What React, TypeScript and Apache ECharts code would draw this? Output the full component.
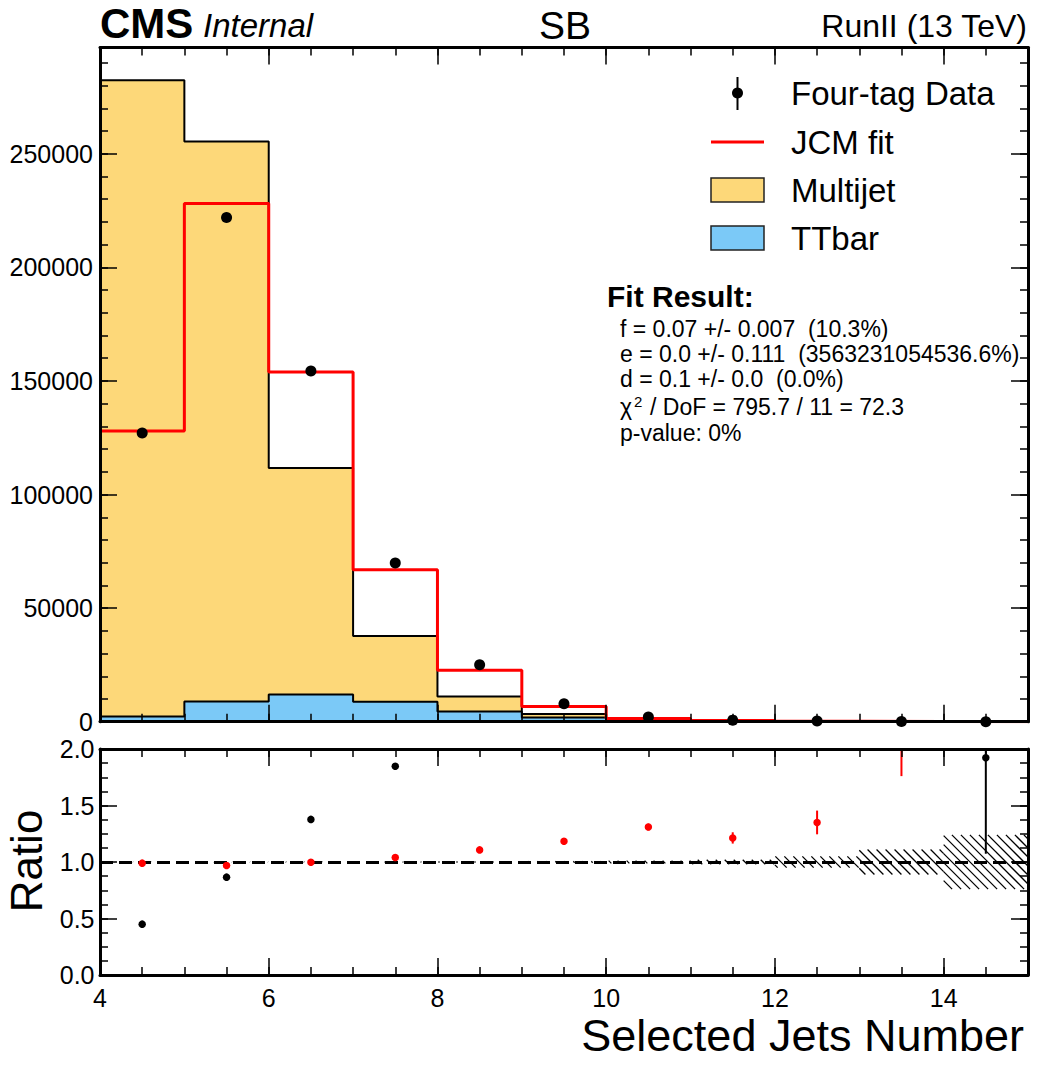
import React, { useEffect, useRef } from "react";
import * as echarts from "echarts";

// ---------------- data ----------------
const binEdges = [4, 5, 6, 7, 8, 9, 10, 11, 12, 13, 14, 15];
const binCenters = [4.5, 5.5, 6.5, 7.5, 8.5, 9.5, 10.5, 11.5, 12.5, 13.5, 14.5];
const multijet = [280070, 246510, 99700, 28900, 6600, 1600, 360, 120, 40, 15, 8];
const ttbar = [2330, 8930, 12000, 8800, 4530, 1800, 300, 80, 20, 5, 2];
const jcmFit = [128000, 228170, 153970, 66900, 22600, 6700, 1450, 570, 200, 40, 10];
const fourTagData = [127100, 222000, 154400, 69830, 25080, 7900, 2070, 690, 270, 100, 20];

// ratio panel
const ratioDataOverFit = [0.99, 0.969, 0.998, 1.04, 1.107, 1.183, 1.31, 1.213, 1.35, 2.5, 3.0];
const ratioDataOverFitErr = [0.003, 0.003, 0.004, 0.006, 0.01, 0.02, 0.03, 0.05, 0.105, 0.74, 0.8];
const ratioDataOverStack = [0.45, 0.866, 1.377, 1.847, 2.25, 2.32, 3.1, 3.4, 4.0, 5.0, 1.923];
const ratioDataOverStackErr = [0.002, 0.003, 0.006, 0.02, 0.03, 0.06, 0.12, 0.25, 0.5, 0.9, 0.85];
const ratioBandErr = [0.001, 0.001, 0.002, 0.003, 0.004, 0.006, 0.012, 0.02, 0.05, 0.11, 0.24];

// texts
const legendLabels = ["Four-tag Data", "JCM fit", "Multijet", "TTbar"];
const fitTitle = "Fit Result:";
const fitLines = [
  "f = 0.07 +/- 0.007  (10.3%)",
  "e = 0.0 +/- 0.111  (3563231054536.6%)",
  "d = 0.1 +/- 0.0  (0.0%)",
];
const chiLine = "/ DoF = 795.7 / 11 = 72.3";
const pValueLine = "p-value: 0%";

// axis ranges
const X_MIN = 4;
const X_MAX = 15;
const Y_TOP_MAX = 296800;
const R_MIN = 0;
const R_MAX = 2;

// ---------------- style ----------------
const FF = '"Liberation Sans", Arial, Helvetica, sans-serif';
const YELLOW = "#FDD879";
const BLUE = "#7BC9F7";
const RED = "#FF0000";
const tickLine = { color: "#000", width: 1.5 };

function xAxisDef(grid: number, pos: string, interval: number, len: number, line: boolean, labels: boolean) {
  return {
    type: "value",
    gridIndex: grid,
    position: pos,
    min: X_MIN,
    max: X_MAX,
    interval,
    z: 10,
    axisLine: { show: line, onZero: false, lineStyle: { color: "#000", width: 3 } },
    axisTick: { show: true, inside: true, length: len, lineStyle: tickLine },
    axisLabel: {
      show: labels,
      margin: 13,
      color: "#000",
      fontSize: 25,
      lineHeight: 20,
      fontFamily: FF,
      showMaxLabel: false,
      formatter: (v: number) => String(v),
    },
    splitLine: { show: false },
    minorTick: { show: false },
  };
}

function yAxisDef(
  grid: number,
  pos: string,
  min: number,
  max: number,
  interval: number,
  len: number,
  line: boolean,
  labels: boolean,
  margin: number,
  fmt: (v: number) => string
) {
  return {
    type: "value",
    gridIndex: grid,
    position: pos,
    min,
    max,
    interval,
    z: 10,
    axisLine: { show: line, onZero: false, lineStyle: { color: "#000", width: 3 } },
    axisTick: { show: true, inside: true, length: len, lineStyle: tickLine },
    axisLabel: {
      show: labels,
      margin,
      color: "#000",
      fontSize: 25,
      fontFamily: FF,
      showMaxLabel: false,
      formatter: fmt,
    },
    splitLine: { show: false },
    minorTick: { show: false },
  };
}

const stepPoints = (vals: number[]) => {
  const pts = vals.map((v, i) => [binEdges[i], v]);
  pts.push([binEdges[vals.length], vals[vals.length - 1]]);
  return pts;
};

function txt(x: number, y: number, text: string, size: number, opts: any = {}) {
  const align = opts.align || "left";
  const style: any = {
    text,
    fill: "#000",
    fontSize: size,
    fontFamily: FF,
    fontWeight: opts.weight || "normal",
    fontStyle: opts.fontStyle || "normal",
    align,
    textAlign: align,
    verticalAlign: "middle",
    textVerticalAlign: "middle",
  };
  if (opts.lineHeight) style.lineHeight = opts.lineHeight;
  return {
    type: "text",
    x,
    y,
    z: 100,
    silent: true,
    rotation: opts.rotation || 0,
    style,
  };
}

function errorBarRenderer(color: string) {
  return (params: any, api: any) => {
    const x = api.value(0);
    const v = api.value(1);
    const e = api.value(2);
    const lo = Math.max(v - e, R_MIN);
    const hi = Math.min(v + e, R_MAX);
    if (!(hi > lo)) return { type: "group", children: [] };
    const p1 = api.coord([x, lo]);
    const p2 = api.coord([x, hi]);
    return {
      type: "line",
      shape: { x1: p1[0], y1: p1[1], x2: p2[0], y2: p2[1] },
      style: { stroke: color, lineWidth: 2 },
    };
  };
}

function hatchRenderer(params: any, api: any) {
  const x0 = api.value(0);
  const x1 = api.value(1);
  const e = api.value(2);
  const pA = api.coord([x0, 1 + e]);
  const pB = api.coord([x1, 1 - e]);
  const left = pA[0];
  const top = pA[1];
  const right = pB[0];
  const bottom = pB[1];
  const s = 9;
  const children: any[] = [];
  const cStart = Math.floor((top - right) / s) * s;
  const cEnd = bottom - left;
  for (let c = cStart; c <= cEnd; c += s) {
    const xa = Math.max(left, top - c);
    const xb = Math.min(right, bottom - c);
    if (xb > xa) {
      children.push({
        type: "line",
        shape: { x1: xa, y1: xa + c, x2: xb, y2: xb + c },
        style: { stroke: "#000", lineWidth: 1.3 },
      });
    }
  }
  return { type: "group", children };
}

function buildOption() {
  const stackTotal = multijet.map((v, i) => v + ttbar[i]);
  const fmtInt = (v: number) => String(v);
  const fmtRatio = (v: number) => v.toFixed(1);

  const xAxis = [
    xAxisDef(0, "bottom", 2, 17, true, false),
    xAxisDef(0, "bottom", 0.5, 8, false, false),
    xAxisDef(0, "top", 2, 17, true, false),
    xAxisDef(0, "top", 0.5, 8, false, false),
    xAxisDef(1, "bottom", 2, 17, true, true),
    xAxisDef(1, "bottom", 0.5, 8, false, false),
    xAxisDef(1, "top", 2, 17, true, false),
    xAxisDef(1, "top", 0.5, 8, false, false),
  ];
  const yAxis = [
    yAxisDef(0, "left", 0, Y_TOP_MAX, 50000, 17, true, true, 7, fmtInt),
    yAxisDef(0, "left", 0, Y_TOP_MAX, 10000, 8, false, false, 7, fmtInt),
    yAxisDef(0, "right", 0, Y_TOP_MAX, 50000, 17, true, false, 7, fmtInt),
    yAxisDef(0, "right", 0, Y_TOP_MAX, 10000, 8, false, false, 7, fmtInt),
    yAxisDef(1, "left", R_MIN, R_MAX, 0.5, 17, true, true, 5.5, fmtRatio),
    yAxisDef(1, "left", R_MIN, R_MAX, 0.125, 8, false, false, 5.5, fmtRatio),
    yAxisDef(1, "right", R_MIN, R_MAX, 0.5, 17, true, false, 5.5, fmtRatio),
    yAxisDef(1, "right", R_MIN, R_MAX, 0.125, 8, false, false, 5.5, fmtRatio),
  ];
  (yAxis[4].axisLabel as any).showMaxLabel = true;

  const series: any[] = [
    {
      type: "line",
      xAxisIndex: 0,
      yAxisIndex: 0,
      data: stepPoints(stackTotal),
      step: "end",
      symbol: "none",
      silent: true,
      lineStyle: { color: "#000", width: 2 },
      areaStyle: { color: YELLOW, opacity: 1 },
      z: 2,
    },
    {
      type: "line",
      xAxisIndex: 0,
      yAxisIndex: 0,
      data: stepPoints(ttbar),
      step: "end",
      symbol: "none",
      silent: true,
      lineStyle: { color: "#000", width: 2 },
      areaStyle: { color: BLUE, opacity: 1 },
      z: 3,
    },
    {
      type: "line",
      xAxisIndex: 0,
      yAxisIndex: 0,
      data: stepPoints(jcmFit),
      step: "end",
      symbol: "none",
      silent: true,
      lineStyle: { color: RED, width: 3 },
      z: 4,
    },
    {
      type: "scatter",
      xAxisIndex: 0,
      yAxisIndex: 0,
      data: binCenters.map((x, i) => [x, fourTagData[i]]),
      symbol: "circle",
      symbolSize: 11,
      clip: true,
      silent: true,
      itemStyle: { color: "#000", opacity: 1 },
      z: 5,
    },
    // ratio panel
    {
      type: "custom",
      xAxisIndex: 4,
      yAxisIndex: 4,
      silent: true,
      renderItem: hatchRenderer,
      data: ratioBandErr.map((e, i) => [binEdges[i], binEdges[i + 1], e]),
      z: 2,
    },
    {
      type: "custom",
      xAxisIndex: 4,
      yAxisIndex: 4,
      silent: true,
      renderItem: errorBarRenderer("#000"),
      data: binCenters.map((x, i) => [x, ratioDataOverStack[i], ratioDataOverStackErr[i]]),
      z: 4,
    },
    {
      type: "scatter",
      xAxisIndex: 4,
      yAxisIndex: 4,
      data: binCenters.map((x, i) => [x, ratioDataOverStack[i]]),
      symbol: "circle",
      symbolSize: 7.5,
      clip: true,
      silent: true,
      itemStyle: { color: "#000", opacity: 1 },
      z: 5,
      markLine: {
        silent: true,
        symbol: ["none", "none"],
        label: { show: false },
        lineStyle: { color: "#000", width: 3, type: [13, 6], opacity: 1 },
        data: [{ yAxis: 1 }],
        z: 3,
      },
    },
    {
      type: "custom",
      xAxisIndex: 4,
      yAxisIndex: 4,
      silent: true,
      renderItem: errorBarRenderer(RED),
      data: binCenters.map((x, i) => [x, ratioDataOverFit[i], ratioDataOverFitErr[i]]),
      z: 6,
    },
    {
      type: "scatter",
      xAxisIndex: 4,
      yAxisIndex: 4,
      data: binCenters.map((x, i) => [x, ratioDataOverFit[i]]),
      symbol: "circle",
      symbolSize: 7.5,
      clip: true,
      silent: true,
      itemStyle: { color: RED, opacity: 1 },
      z: 7,
    },
  ];

  const graphic: any[] = [
    // header
    txt(100, 23, "CMS", 42, { weight: "bold", lineHeight: 40 }),
    txt(203, 25, "Internal", 33, { fontStyle: "italic" }),
    txt(565, 25, "SB", 39, { align: "center" }),
    txt(1027, 26, "RunII (13 TeV)", 32, { align: "right" }),
    // legend symbols
    {
      type: "line",
      z: 100,
      silent: true,
      shape: { x1: 737.5, y1: 77, x2: 737.5, y2: 110 },
      style: { stroke: "#000", lineWidth: 2 },
    },
    {
      type: "circle",
      z: 101,
      silent: true,
      shape: { cx: 737.5, cy: 93, r: 5.5 },
      style: { fill: "#000" },
    },
    {
      type: "line",
      z: 100,
      silent: true,
      shape: { x1: 711, y1: 142, x2: 764, y2: 142 },
      style: { stroke: RED, lineWidth: 3 },
    },
    {
      type: "rect",
      z: 100,
      silent: true,
      shape: { x: 711, y: 178, width: 53, height: 24 },
      style: { fill: YELLOW, stroke: "#222", lineWidth: 1.5 },
    },
    {
      type: "rect",
      z: 100,
      silent: true,
      shape: { x: 711, y: 226, width: 53, height: 24 },
      style: { fill: BLUE, stroke: "#222", lineWidth: 1.5 },
    },
    txt(791, 93, legendLabels[0], 33),
    txt(791, 142, legendLabels[1], 33),
    txt(791, 190, legendLabels[2], 33),
    txt(791, 238, legendLabels[3], 33),
    // fit result box
    txt(607, 296, fitTitle, 30, { weight: "bold" }),
    txt(620, 329, fitLines[0], 23),
    txt(620, 354, fitLines[1], 23),
    txt(620, 379, fitLines[2], 23),
    txt(620, 407, "\u03c7", 23),
    txt(634, 401, "2", 15),
    txt(650, 407, chiLine, 23),
    txt(620, 433, pValueLine, 23),
    // axis titles
    txt(26, 861, "Ratio", 44, { align: "center", rotation: Math.PI / 2 }),
    txt(1024, 1035, "Selected Jets Number", 45, { align: "right", lineHeight: 32 }),
  ];

  return {
    animation: false,
    backgroundColor: "#fff",
    grid: [
      { left: 100, top: 47.5, width: 928, height: 674.2, containLabel: false },
      { left: 100, top: 749, width: 928, height: 226, containLabel: false },
    ],
    xAxis,
    yAxis,
    series,
    graphic,
  };
}

export default function App() {
  const ref = useRef<HTMLDivElement>(null);
  useEffect(() => {
    if (!ref.current) return;
    const chart = echarts.init(ref.current, null, { renderer: "svg", width: 1060, height: 1070 });
    chart.setOption(buildOption() as any);
    return () => {
      chart.dispose();
    };
  }, []);
  return (
    <div
      ref={ref}
      style={{ position: "absolute", left: 0, top: 0, width: 1060, height: 1070, background: "#fff" }}
    />
  );
}
